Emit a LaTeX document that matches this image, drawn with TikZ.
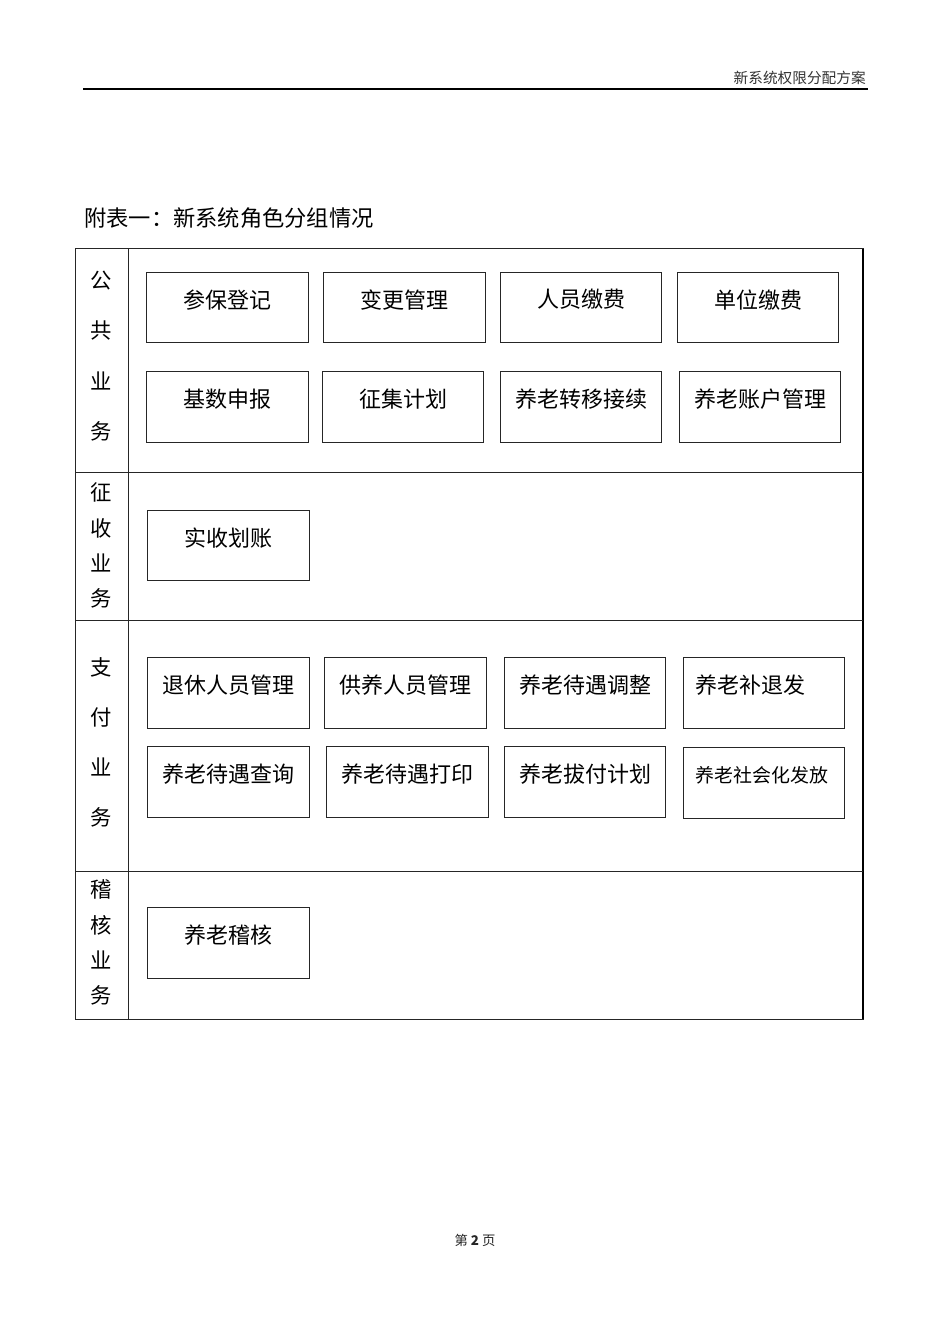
\documentclass[tikz,border=0pt]{standalone}
\usepackage{fontspec}
\setmainfont{Noto Sans CJK SC}
\tikzset{
  rolebox/.style={draw=black!85, line width=0.8pt, minimum width=121pt, minimum height=53pt, inner sep=0pt},
  roletext/.style={inner sep=0pt, font=\fontsize{16.5pt}{18pt}\selectfont},
  smalltext/.style={inner sep=0pt, font=\fontsize{14.2pt}{16pt}\selectfont},
  sidechar/.style={inner sep=0pt, font=\fontsize{16pt}{18pt}\selectfont},
  tline/.style={line width=0.75pt, black!85},
}
\newcommand{\rolebx}[4]{%
  \node[rolebox] (#1) at (#2) {};
  \node[roletext] (#1t) at ([yshift=-21pt]#1.north) {#3#4};
}
\begin{document}
\begin{tikzpicture}[x=0.75pt,y=-0.75pt]
\useasboundingbox (0,0) rectangle (950,1344);
\fill[white] (0,0) rectangle (950,1344);

% header
\node[anchor=base east, inner sep=0pt, font=\fontsize{11pt}{12pt}\selectfont, text=black!80] (hdr) at (866,84) {新系统权限分配方案};
\draw[line width=1.3pt] (83,89) -- (868,89);

% title
\node[anchor=base west, inner sep=0pt, font=\fontsize{16.7pt}{18pt}\selectfont] (title) at (84,227) {附表一：新系统角色分组情况};

% table
\draw[tline] (75,249) -- (864,249);
\draw[tline] (75,1019) -- (864,1019);
\draw[tline] (75,249) -- (75,1019);
\draw[line width=1.5pt] (863,249) -- (863,1019);
\draw[tline] (128,249) -- (128,1019);
\draw[tline] (75,472) -- (863,472);
\draw[tline] (75,620) -- (863,620);
\draw[tline] (75,871) -- (863,871);

% side labels
\node[sidechar] (s11) at (101,281) {公};
\node[sidechar] (s12) at (101,331) {共};
\node[sidechar] (s13) at (101,381) {业};
\node[sidechar] (s14) at (101,431) {务};
\node[sidechar] (s21) at (101,492) {征};
\node[sidechar] (s22) at (101,528) {收};
\node[sidechar] (s23) at (101,563) {业};
\node[sidechar] (s24) at (101,598) {务};
\node[sidechar] (s31) at (101,667) {支};
\node[sidechar] (s32) at (101,717) {付};
\node[sidechar] (s33) at (101,767) {业};
\node[sidechar] (s34) at (101,817) {务};
\node[sidechar] (s41) at (101,889) {稽};
\node[sidechar] (s42) at (101,925) {核};
\node[sidechar] (s43) at (101,960) {业};
\node[sidechar] (s44) at (101,995) {务};

% public business
\rolebx{a1}{227.5,307.5}{参保登记}{}
\rolebx{a2}{404.5,307.5}{变更管理}{}
\rolebx{a3}{581,307.5}{人员缴费}{}
\rolebx{a4}{758,307.5}{单位缴费}{}
\rolebx{a5}{227.5,407}{基数申报}{}
\rolebx{a6}{403,407}{征集计划}{}
\rolebx{a7}{581,407}{养老转移接续}{}
\rolebx{a8}{760,407}{养老账户管理}{}

% collection
\rolebx{b1}{228.5,545.5}{实收划账}{}

% payment
\rolebx{c1}{228.5,693}{退休人员管理}{}
\rolebx{c2}{405.5,693}{供养人员管理}{}
\rolebx{c3}{585,693}{养老待遇调整}{}
\node[rolebox] (c4) at (764,693) {};
\node[roletext, anchor=west] (c4t) at ([xshift=9.5pt,yshift=-21pt]c4.north west) {养老补退发};
\rolebx{c5}{228.5,782}{养老待遇查询}{}
\rolebx{c6}{407.5,782}{养老待遇打印}{}
\rolebx{c7}{585,782}{养老拔付计划}{}
\node[rolebox] (c8) at (764,783) {};
\node[smalltext, anchor=west] (c8t) at ([xshift=9.5pt,yshift=-21pt]c8.north west) {养老社会化发放};

% audit
\rolebx{d1}{228.5,943}{养老稽核}{}

% footer
\node[anchor=base, inner sep=0pt, font=\fontsize{10pt}{12pt}\selectfont, text=black!85] (ftr) at (475,1245) {第 \textbf{2} 页};
\end{tikzpicture}
\end{document}
